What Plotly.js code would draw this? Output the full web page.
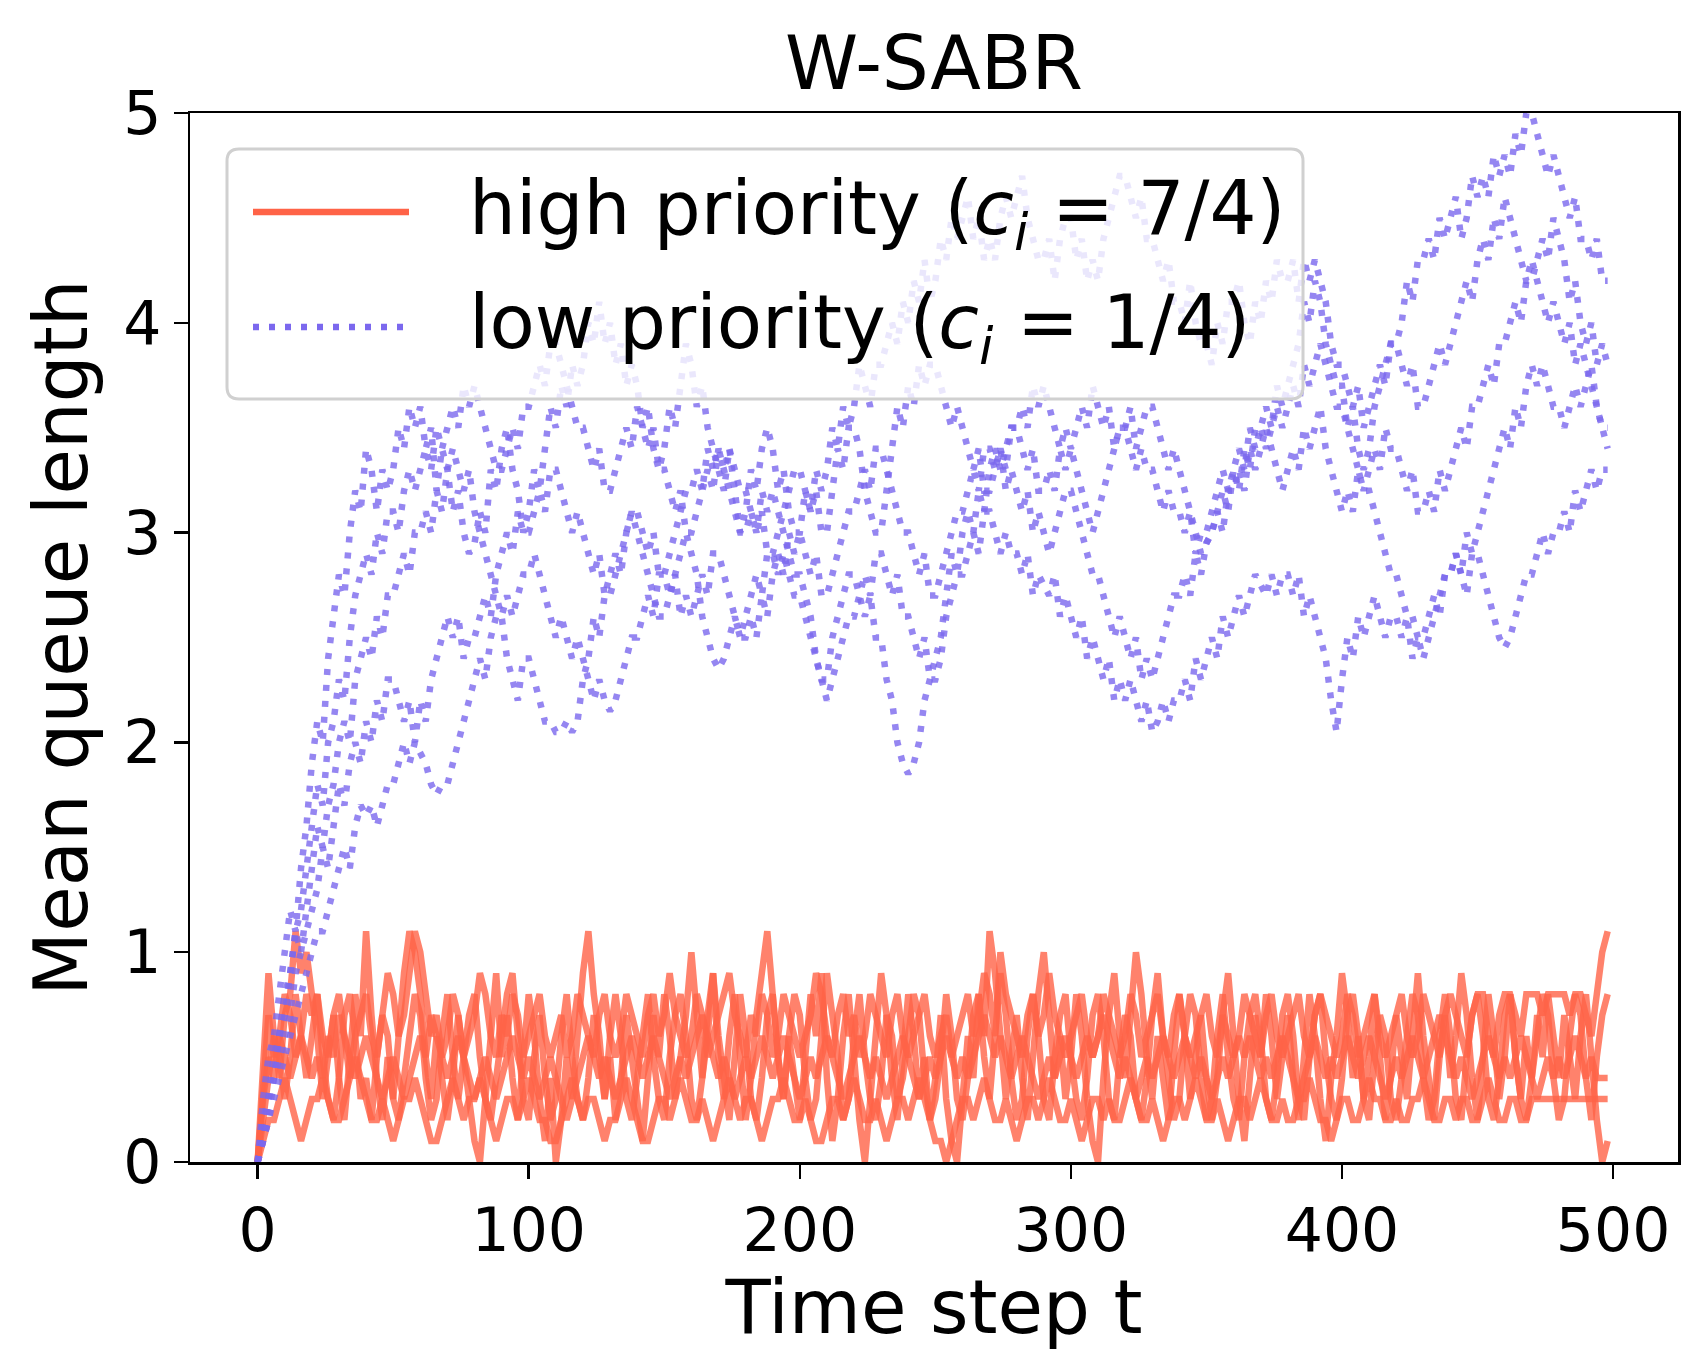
<!DOCTYPE html>
<html>
<head>
<meta charset="utf-8">
<script src="https://cdn.plot.ly/plotly-3.0.1.min.js"></script>
<style>
  body { margin: 0; background: #fff; }
  #chart { width: 1706px; height: 1372px; }
</style>
</head>
<body>
<div id="chart"></div>
<script>
// Mean queue length per run, sampled every 2 time steps (t = 0, 2, ..., 498)
var high_run1 = [
  0.0, 0.3, 0.5, 0.4, 0.6, 0.5, 0.4, 0.5, 0.6, 0.5,
  0.4, 0.5, 0.4, 0.6, 0.5, 0.7, 0.6, 0.5, 0.4, 0.5,
  0.6, 0.5, 0.4, 0.3, 0.4, 0.5, 0.4, 0.3, 0.4, 0.5,
  0.6, 0.5, 0.7, 0.6, 0.5, 0.4, 0.5, 0.6, 0.5, 0.4,
  0.3, 0.4, 0.5, 0.4, 0.3, 0.4, 0.5, 0.6, 0.5, 0.4,
  0.5, 0.4, 0.3, 0.4, 0.5, 0.4, 0.3, 0.2, 0.3, 0.4,
  0.5, 0.6, 0.5, 0.4, 0.5, 0.4, 0.3, 0.4, 0.5, 0.6,
  0.5, 0.4, 0.5, 0.6, 0.5, 0.4, 0.3, 0.4, 0.5, 0.4,
  0.5, 0.6, 0.7, 0.6, 0.5, 0.4, 0.5, 0.4, 0.3, 0.4,
  0.5, 0.4, 0.5, 0.6, 0.5, 0.4, 0.5, 0.6, 0.5, 0.4,
  0.3, 0.4, 0.5, 0.4, 0.5, 0.6, 0.5, 0.4, 0.3, 0.4,
  0.5, 0.6, 0.5, 0.4, 0.5, 0.4, 0.3, 0.4, 0.5, 0.6,
  0.5, 0.4, 0.3, 0.4, 0.5, 0.4, 0.5, 0.6, 0.5, 0.4,
  0.5, 0.4, 0.5, 0.6, 0.7, 0.6, 0.5, 0.6, 0.5, 0.4,
  0.5, 0.6, 0.5, 0.4, 0.3, 0.4, 0.5, 0.4, 0.5, 0.6,
  0.5, 0.4, 0.5, 0.6, 0.5, 0.6, 0.7, 0.6, 0.5, 0.4,
  0.5, 0.4, 0.3, 0.4, 0.5, 0.4, 0.5, 0.6, 0.5, 0.4,
  0.5, 0.6, 0.5, 0.4, 0.5, 0.4, 0.3, 0.4, 0.5, 0.4,
  0.5, 0.6, 0.5, 0.6, 0.5, 0.4, 0.5, 0.4, 0.5, 0.6,
  0.5, 0.4, 0.3, 0.4, 0.5, 0.6, 0.5, 0.4, 0.5, 0.4,
  0.5, 0.6, 0.5, 0.4, 0.5, 0.6, 0.5, 0.4, 0.3, 0.4,
  0.5, 0.4, 0.5, 0.6, 0.5, 0.4, 0.5, 0.6, 0.7, 0.6,
  0.5, 0.4, 0.5, 0.4, 0.3, 0.4, 0.5, 0.6, 0.5, 0.4,
  0.5, 0.4, 0.5, 0.6, 0.5, 0.4, 0.3, 0.4, 0.5, 0.4,
  0.5, 0.4, 0.5, 0.6, 0.5, 0.4, 0.5, 0.4, 0.4, 0.4
];
var high_run2 = [
  0.0, 0.5, 0.9, 0.6, 0.4, 0.7, 0.8, 1.1, 0.9, 1.0,
  0.8, 0.6, 0.3, 0.5, 0.7, 0.4, 0.2, 0.5, 0.8, 0.6,
  1.1, 0.7, 0.4, 0.2, 0.5, 0.3, 0.6, 0.9, 1.1, 1.0,
  0.8, 0.5, 0.3, 0.6, 0.4, 0.2, 0.4, 0.7, 0.5, 0.3,
  0.1, 0.0, 0.3, 0.6, 0.9, 0.5, 0.7, 0.4, 0.2, 0.5,
  0.8, 0.6, 0.3, 0.1, 0.4, 0.0, 0.2, 0.5, 0.3, 0.6,
  0.9, 1.1, 0.8, 0.6, 0.3, 0.5, 0.2, 0.4, 0.7, 0.5,
  0.3, 0.1, 0.4, 0.7, 0.5, 0.8, 0.6, 0.3, 0.5, 0.7,
  1.0, 0.7, 0.4, 0.6, 0.9, 0.5, 0.3, 0.6, 0.8, 0.5,
  0.2, 0.4, 0.7, 0.9, 1.1, 0.8, 0.5, 0.3, 0.6, 0.4,
  0.2, 0.5, 0.8, 0.6, 0.9, 0.4, 0.1, 0.3, 0.6, 0.8,
  0.5, 0.2, 0.0, 0.3, 0.6, 0.9, 0.7, 0.4, 0.2, 0.5,
  0.8, 0.6, 0.3, 0.5, 0.2, 0.4, 0.7, 0.3, 0.1, 0.0,
  0.3, 0.6, 0.4, 0.8, 0.6, 1.1, 0.9, 0.6, 0.3, 0.5,
  0.7, 0.4, 0.2, 0.5, 0.8, 1.0, 0.7, 0.4, 0.6, 0.3,
  0.5, 0.8, 0.6, 0.3, 0.1, 0.0, 0.4, 0.7, 0.9, 0.6,
  0.4, 0.7, 1.0, 0.8, 0.5, 0.3, 0.6, 0.4, 0.2, 0.5,
  0.8, 0.6, 0.3, 0.5, 0.7, 0.4, 0.2, 0.4, 0.7, 0.9,
  0.6, 0.3, 0.1, 0.4, 0.7, 0.5, 0.8, 0.6, 0.3, 0.5,
  0.7, 0.4, 0.2, 0.5, 0.8, 0.6, 0.3, 0.1, 0.4, 0.6,
  0.9, 0.7, 0.4, 0.6, 0.3, 0.5, 0.8, 0.5, 0.2, 0.4,
  0.7, 0.5, 0.3, 0.6, 0.9, 0.6, 0.4, 0.2, 0.5, 0.7,
  0.4, 0.6, 0.9, 0.7, 0.4, 0.2, 0.5, 0.8, 0.6, 0.3,
  0.5, 0.8, 0.5, 0.3, 0.6, 0.4, 0.7, 0.5, 0.8, 0.6,
  0.4, 0.7, 0.5, 0.3, 0.6, 0.8, 0.5, 0.2, 0.0, 0.1
];
var high_run3 = [
  0.0, 0.2, 0.4, 0.6, 0.5, 0.3, 0.5, 0.8, 0.6, 0.4,
  0.6, 0.8, 0.5, 0.3, 0.2, 0.4, 0.7, 0.8, 0.6, 0.3,
  0.4, 0.2, 0.5, 0.7, 0.6, 0.3, 0.2, 0.4, 0.6, 0.8,
  0.7, 0.4, 0.2, 0.3, 0.6, 0.8, 0.5, 0.3, 0.5, 0.7,
  0.8, 0.5, 0.3, 0.2, 0.4, 0.6, 0.8, 0.9, 0.6, 0.3,
  0.2, 0.5, 0.7, 0.4, 0.2, 0.3, 0.6, 0.8, 0.5, 0.3,
  0.2, 0.4, 0.7, 0.5, 0.3, 0.6, 0.8, 0.6, 0.3, 0.2,
  0.4, 0.6, 0.8, 0.5, 0.3, 0.2, 0.5, 0.7, 0.8, 0.6,
  0.3, 0.2, 0.4, 0.7, 0.9, 0.6, 0.4, 0.2, 0.5, 0.8,
  0.6, 0.3, 0.2, 0.4, 0.7, 0.8, 0.5, 0.3, 0.6, 0.8,
  0.7, 0.4, 0.2, 0.3, 0.6, 0.9, 0.7, 0.5, 0.2, 0.3,
  0.6, 0.8, 0.5, 0.3, 0.2, 0.4, 0.7, 0.6, 0.3, 0.4,
  0.6, 0.8, 0.7, 0.4, 0.2, 0.3, 0.5, 0.8, 0.6, 0.3,
  0.2, 0.4, 0.7, 0.8, 0.5, 0.3, 0.6, 0.9, 0.7, 0.4,
  0.2, 0.3, 0.6, 0.8, 0.6, 0.3, 0.2, 0.5, 0.7, 0.8,
  0.5, 0.3, 0.2, 0.4, 0.7, 0.8, 0.6, 0.3, 0.2, 0.5,
  0.7, 0.6, 0.3, 0.2, 0.4, 0.7, 0.9, 0.6, 0.4, 0.2,
  0.3, 0.6, 0.8, 0.7, 0.4, 0.2, 0.3, 0.6, 0.8, 0.5,
  0.3, 0.2, 0.5, 0.7, 0.8, 0.6, 0.3, 0.2, 0.4, 0.7,
  0.8, 0.6, 0.3, 0.2, 0.5, 0.7, 0.8, 0.5, 0.3, 0.2,
  0.4, 0.7, 0.8, 0.6, 0.3, 0.2, 0.5, 0.7, 0.6, 0.3,
  0.2, 0.4, 0.6, 0.8, 0.7, 0.4, 0.2, 0.3, 0.6, 0.8,
  0.6, 0.3, 0.2, 0.5, 0.7, 0.8, 0.6, 0.3, 0.2, 0.4,
  0.7, 0.8, 0.5, 0.3, 0.2, 0.4, 0.6, 0.8, 0.7, 0.4,
  0.2, 0.3, 0.6, 0.8, 0.7, 0.4, 0.2, 0.5, 0.7, 0.8
];
var high_run4 = [
  0.0, 0.1, 0.2, 0.2, 0.3, 0.4, 0.3, 0.2, 0.1, 0.2,
  0.3, 0.3, 0.4, 0.3, 0.2, 0.2, 0.3, 0.4, 0.5, 0.4,
  0.3, 0.2, 0.2, 0.3, 0.2, 0.1, 0.2, 0.3, 0.3, 0.4,
  0.3, 0.2, 0.1, 0.1, 0.2, 0.3, 0.4, 0.3, 0.2, 0.3,
  0.3, 0.4, 0.3, 0.2, 0.1, 0.2, 0.3, 0.3, 0.2, 0.3,
  0.4, 0.3, 0.2, 0.2, 0.1, 0.1, 0.2, 0.3, 0.4, 0.3,
  0.2, 0.3, 0.3, 0.2, 0.1, 0.2, 0.2, 0.3, 0.4, 0.3,
  0.2, 0.1, 0.1, 0.2, 0.3, 0.3, 0.2, 0.3, 0.4, 0.3,
  0.2, 0.2, 0.3, 0.2, 0.1, 0.2, 0.3, 0.4, 0.3, 0.2,
  0.3, 0.3, 0.2, 0.1, 0.2, 0.3, 0.3, 0.4, 0.3, 0.2,
  0.2, 0.3, 0.2, 0.1, 0.1, 0.2, 0.3, 0.3, 0.2, 0.3,
  0.4, 0.3, 0.2, 0.2, 0.3, 0.2, 0.1, 0.2, 0.3, 0.3,
  0.2, 0.3, 0.4, 0.3, 0.2, 0.1, 0.1, 0.0, 0.1, 0.2,
  0.3, 0.3, 0.2, 0.3, 0.4, 0.3, 0.2, 0.2, 0.3, 0.2,
  0.1, 0.2, 0.3, 0.3, 0.2, 0.3, 0.4, 0.3, 0.2, 0.2,
  0.3, 0.2, 0.1, 0.2, 0.3, 0.3, 0.2, 0.3, 0.2, 0.2,
  0.3, 0.4, 0.3, 0.2, 0.2, 0.3, 0.2, 0.1, 0.2, 0.3,
  0.3, 0.2, 0.3, 0.4, 0.3, 0.2, 0.2, 0.3, 0.2, 0.1,
  0.2, 0.3, 0.3, 0.2, 0.3, 0.4, 0.3, 0.2, 0.2, 0.3,
  0.2, 0.2, 0.3, 0.3, 0.4, 0.3, 0.2, 0.2, 0.1, 0.2,
  0.3, 0.3, 0.2, 0.2, 0.3, 0.4, 0.3, 0.3, 0.2, 0.2,
  0.3, 0.2, 0.2, 0.3, 0.3, 0.4, 0.3, 0.2, 0.2, 0.3,
  0.3, 0.2, 0.3, 0.3, 0.2, 0.2, 0.3, 0.4, 0.3, 0.2,
  0.2, 0.3, 0.3, 0.2, 0.2, 0.3, 0.3, 0.3, 0.3, 0.3,
  0.3, 0.3, 0.3, 0.3, 0.3, 0.3, 0.3, 0.3, 0.3, 0.3
];
var high_run5 = [
  0.0, 0.4, 0.7, 0.5, 0.6, 0.8, 0.7, 0.5, 0.6, 0.8,
  0.7, 0.8, 0.6, 0.5, 0.7, 0.8, 0.6, 0.4, 0.6, 0.7,
  0.8, 0.6, 0.5, 0.7, 0.9, 0.8, 0.6, 0.7, 0.9, 1.1,
  1.0, 0.8, 0.6, 0.7, 0.5, 0.6, 0.8, 0.7, 0.5, 0.6,
  0.7, 0.9, 0.8, 0.6, 0.5, 0.7, 0.6, 0.8, 0.7, 0.5,
  0.6, 0.7, 0.8, 0.6, 0.5, 0.6, 0.7, 0.5, 0.6, 0.8,
  0.7, 0.6, 0.5, 0.7, 0.8, 0.6, 0.5, 0.6, 0.8, 0.7,
  0.6, 0.5, 0.7, 0.8, 0.6, 0.7, 0.9, 0.7, 0.6, 0.5,
  0.6, 0.8, 0.7, 0.5, 0.6, 0.7, 0.8, 0.9, 0.7, 0.6,
  0.5, 0.7, 0.6, 0.8, 0.7, 0.5, 0.6, 0.8, 0.7, 0.6,
  0.5, 0.6, 0.7, 0.9, 0.8, 0.6, 0.5, 0.7, 0.8, 0.6,
  0.7, 0.5, 0.6, 0.8, 0.7, 0.6, 0.5, 0.7, 0.8, 0.6,
  0.5, 0.6, 0.7, 0.8, 0.6, 0.5, 0.6, 0.7, 0.5, 0.6,
  0.7, 0.8, 0.6, 0.7, 0.9, 0.8, 0.6, 1.0, 0.8, 0.7,
  0.6, 0.5, 0.7, 0.8, 0.6, 0.7, 0.9, 0.7, 0.6, 0.5,
  0.6, 0.7, 0.8, 0.6, 0.5, 0.6, 0.8, 0.7, 0.6, 0.5,
  0.6, 0.8, 0.7, 0.5, 0.6, 0.7, 0.8, 0.6, 0.5, 0.7,
  0.8, 0.6, 0.5, 0.6, 0.7, 0.8, 0.6, 0.5, 0.7, 0.6,
  0.5, 0.6, 0.8, 0.7, 0.6, 0.5, 0.7, 0.8, 0.6, 0.5,
  0.6, 0.7, 0.8, 0.6, 0.5, 0.7, 0.8, 0.7, 0.6, 0.5,
  0.6, 0.8, 0.7, 0.5, 0.6, 0.7, 0.8, 0.6, 0.5, 0.6,
  0.7, 0.8, 0.6, 0.5, 0.6, 0.8, 0.7, 0.6, 0.5, 0.7,
  0.8, 0.7, 0.6, 0.5, 0.7, 0.8, 0.8, 0.6, 0.5, 0.7,
  0.8, 0.8, 0.7, 0.6, 0.8, 0.8, 0.8, 0.7, 0.8, 0.8,
  0.8, 0.8, 0.7, 0.8, 0.8, 0.7, 0.6, 0.8, 1.0, 1.1
];

var low_run1 = [
  0.0, 0.3, 0.5, 0.6, 0.8, 1.0, 1.2, 1.1, 1.4, 1.6,
  1.9, 2.1, 2.0, 2.4, 2.6, 2.8, 2.7, 3.0, 3.2, 3.1,
  3.4, 3.3, 3.1, 3.3, 3.2, 3.3, 3.5, 3.4, 3.6, 3.5,
  3.6, 3.4, 3.5, 3.2, 3.4, 3.3, 3.1, 3.2, 3.0, 2.9,
  2.95, 3.1, 3.0, 3.3, 3.2, 3.4, 3.5, 3.3, 3.2, 3.0,
  3.1, 3.3, 3.2, 3.4, 3.6, 3.5, 3.7, 3.6, 3.8, 3.7,
  3.8, 4.0, 3.9, 4.1, 3.9, 4.0, 3.8, 3.9, 3.7, 3.8,
  3.7, 3.5, 3.6, 3.4, 3.3, 3.4, 3.6, 3.5, 3.7, 3.9,
  3.8, 3.6, 3.7, 3.5, 3.4, 3.3, 3.2, 3.4, 3.2, 3.0,
  3.1, 3.3, 3.2, 3.4, 3.5, 3.4, 3.2, 3.3, 3.1, 3.0,
  3.0, 3.2, 3.1, 3.3, 3.2, 3.3, 3.5, 3.4, 3.6, 3.5,
  3.6, 3.8, 3.7, 3.6, 3.8, 3.8, 3.9, 4.0, 3.9, 4.1,
  4.0, 4.2, 4.1, 4.3, 4.1, 4.2, 4.4, 4.3, 4.5, 4.4,
  4.5, 4.6, 4.4, 4.5, 4.3, 4.4, 4.3, 4.5, 4.6, 4.5,
  4.6, 4.7, 4.5, 4.4, 4.3, 4.3, 4.4, 4.2, 4.4, 4.5,
  4.5, 4.3, 4.4, 4.2, 4.3, 4.2, 4.4, 4.5, 4.6, 4.7,
  4.7, 4.6, 4.5, 4.6, 4.4, 4.4, 4.3, 4.2, 4.3, 4.1,
  4.1, 4.0, 4.2, 4.0, 3.9, 3.9, 3.8, 4.0, 3.9, 4.1,
  4.1, 4.2, 4.0, 3.9, 4.1, 4.0, 4.2, 4.1, 4.3, 4.2,
  4.2, 4.3, 4.1, 4.3, 4.2, 4.3, 4.2, 4.1, 3.9, 3.8,
  3.8, 3.7, 3.6, 3.7, 3.5, 3.6, 3.7, 3.8, 3.7, 3.9,
  3.9, 4.0, 4.2, 4.1, 4.3, 4.3, 4.4, 4.3, 4.5, 4.4,
  4.5, 4.6, 4.4, 4.5, 4.7, 4.6, 4.7, 4.6, 4.8, 4.7,
  4.8, 4.7, 4.9, 4.8, 5.0, 5.0, 4.9, 4.8, 4.7, 4.8,
  4.7, 4.6, 4.5, 4.6, 4.4, 4.4, 4.3, 4.4, 4.2, 4.2
];
var low_run2 = [
  0.0, 0.2, 0.3, 0.5, 0.6, 0.8, 0.9, 1.1, 1.0, 1.2,
  1.4, 1.6, 1.5, 1.7, 1.8, 2.0, 2.1, 2.0, 2.3, 2.4,
  2.5, 2.4, 2.6, 2.5, 2.7, 2.7, 2.8, 2.9, 2.8, 3.0,
  3.0, 3.1, 3.0, 3.2, 3.1, 3.3, 3.4, 3.3, 3.2, 3.3,
  3.1, 3.0, 2.9, 2.8, 2.7, 2.6, 2.4, 2.3, 2.2, 2.4,
  2.4, 2.3, 2.2, 2.1, 2.1, 2.05, 2.05, 2.1, 2.05, 2.1,
  2.3, 2.4, 2.6, 2.5, 2.7, 2.8, 2.9, 2.8, 3.0, 3.1,
  3.1, 3.0, 2.9, 3.0, 2.8, 2.8, 2.9, 3.0, 3.1, 3.2,
  3.2, 3.3, 3.2, 3.4, 3.3, 3.4, 3.3, 3.2, 3.1, 3.0,
  3.0, 3.1, 3.0, 3.2, 3.1, 3.2, 3.1, 3.0, 2.9, 2.8,
  2.8, 2.7, 2.6, 2.4, 2.3, 2.3, 2.5, 2.6, 2.7, 2.8,
  2.8, 2.7, 2.6, 2.7, 2.5, 2.5, 2.3, 2.2, 2.0, 1.9,
  1.85, 1.9, 2.0, 2.2, 2.3, 2.4, 2.5, 2.7, 2.9, 2.8,
  3.0, 3.1, 3.0, 3.2, 3.1, 3.3, 3.4, 3.3, 3.4, 3.5,
  3.5, 3.4, 3.3, 3.4, 3.2, 3.2, 3.3, 3.2, 3.4, 3.3,
  3.4, 3.3, 3.2, 3.1, 3.0, 3.1, 3.2, 3.3, 3.4, 3.5,
  3.5, 3.6, 3.4, 3.5, 3.6, 3.6, 3.5, 3.4, 3.3, 3.4,
  3.3, 3.2, 3.1, 3.0, 2.9, 2.95, 3.0, 3.1, 3.0, 3.2,
  3.2, 3.3, 3.2, 3.4, 3.3, 3.4, 3.5, 3.4, 3.3, 3.2,
  3.3, 3.4, 3.3, 3.5, 3.4, 3.5, 3.6, 3.4, 3.3, 3.2,
  3.1, 3.2, 3.1, 3.3, 3.2, 3.3, 3.4, 3.3, 3.5, 3.4,
  3.4, 3.3, 3.2, 3.3, 3.1, 3.1, 3.2, 3.1, 3.3, 3.2,
  3.3, 3.4, 3.5, 3.4, 3.6, 3.6, 3.7, 3.8, 3.7, 3.9,
  3.9, 4.0, 4.1, 4.0, 4.2, 4.3, 4.2, 4.1, 4.0, 4.1,
  4.0, 3.9, 4.0, 3.8, 3.9, 3.8, 3.7, 3.6, 3.5, 3.5
];
var low_run3 = [
  0.0, 0.1, 0.2, 0.3, 0.4, 0.5, 0.6, 0.7, 0.8, 0.9,
  1.0, 1.1, 1.1, 1.2, 1.3, 1.4, 1.5, 1.4, 1.6, 1.7,
  1.65, 1.7, 1.6, 1.7, 1.8, 1.8, 1.9, 2.0, 1.9, 2.0,
  1.95, 1.9, 1.8, 1.75, 1.8, 1.8, 1.9, 2.0, 2.1, 2.2,
  2.3, 2.4, 2.3, 2.5, 2.6, 2.6, 2.7, 2.6, 2.7, 2.8,
  2.8, 2.9, 2.8, 2.7, 2.6, 2.5, 2.6, 2.5, 2.4, 2.5,
  2.4, 2.3, 2.2, 2.3, 2.2, 2.15, 2.2, 2.3, 2.4, 2.5,
  2.5, 2.6, 2.7, 2.6, 2.8, 2.8, 2.7, 2.8, 2.6, 2.7,
  2.6, 2.7, 2.8, 2.7, 2.9, 2.9, 2.8, 2.7, 2.6, 2.5,
  2.5, 2.6, 2.5, 2.7, 2.6, 2.8, 2.9, 2.8, 3.0, 2.9,
  3.0, 2.9, 2.8, 2.9, 2.7, 2.7, 2.8, 2.9, 3.0, 3.1,
  3.1, 3.2, 3.3, 3.2, 3.4, 3.4, 3.3, 3.2, 3.1, 3.0,
  3.0, 2.9, 2.8, 2.9, 2.7, 2.7, 2.8, 2.9, 3.0, 3.1,
  3.1, 3.2, 3.3, 3.2, 3.4, 3.4, 3.3, 3.4, 3.2, 3.3,
  3.2, 3.1, 3.2, 3.0, 3.1, 3.0, 2.9, 3.0, 3.1, 3.2,
  3.2, 3.1, 3.0, 2.9, 2.8, 2.8, 2.7, 2.6, 2.5, 2.6,
  2.5, 2.4, 2.5, 2.3, 2.4, 2.3, 2.4, 2.5, 2.6, 2.7,
  2.7, 2.8, 2.7, 2.9, 2.8, 2.95, 3.0, 3.1, 3.2, 3.1,
  3.3, 3.2, 3.4, 3.3, 3.5, 3.5, 3.4, 3.5, 3.6, 3.5,
  3.6, 3.7, 3.6, 3.8, 3.7, 3.8, 3.9, 3.8, 3.7, 3.6,
  3.6, 3.5, 3.4, 3.3, 3.2, 3.2, 3.1, 3.0, 2.9, 2.8,
  2.8, 2.7, 2.6, 2.6, 2.5, 2.5, 2.6, 2.7, 2.6, 2.8,
  2.8, 2.9, 2.8, 3.0, 2.9, 3.0, 3.1, 3.2, 3.3, 3.4,
  3.5, 3.4, 3.6, 3.5, 3.7, 3.8, 3.7, 3.8, 3.7, 3.6,
  3.6, 3.5, 3.6, 3.7, 3.6, 3.7, 3.8, 3.6, 3.5, 3.4
];
var low_run4 = [
  0.0, 0.1, 0.3, 0.4, 0.6, 0.7, 0.9, 1.1, 1.2, 1.4,
  1.6, 1.8, 1.7, 2.0, 2.1, 2.3, 2.2, 2.5, 2.7, 2.8,
  2.9, 2.8, 3.0, 2.9, 3.1, 3.1, 3.0, 3.2, 3.3, 3.2,
  3.3, 3.4, 3.3, 3.5, 3.4, 3.5, 3.6, 3.5, 3.7, 3.6,
  3.7, 3.6, 3.5, 3.4, 3.3, 3.3, 3.4, 3.5, 3.4, 3.6,
  3.6, 3.7, 3.8, 3.7, 3.9, 3.9, 3.8, 3.7, 3.6, 3.5,
  3.5, 3.4, 3.3, 3.4, 3.2, 3.2, 3.3, 3.4, 3.5, 3.4,
  3.6, 3.5, 3.4, 3.5, 3.3, 3.3, 3.2, 3.1, 3.2, 3.0,
  3.0, 3.1, 3.2, 3.3, 3.2, 3.4, 3.3, 3.4, 3.3, 3.2,
  3.2, 3.1, 3.0, 3.1, 2.9, 2.9, 3.0, 3.1, 3.2, 3.3,
  3.3, 3.2, 3.1, 3.2, 3.0, 3.0, 3.2, 3.4, 3.3, 3.5,
  3.5, 3.4, 3.2, 3.1, 3.0, 3.0, 3.2, 3.4, 3.6, 3.5,
  3.7, 3.6, 3.8, 3.7, 3.8, 3.8, 3.7, 3.6, 3.5, 3.6,
  3.5, 3.4, 3.3, 3.4, 3.2, 3.2, 3.3, 3.4, 3.3, 3.5,
  3.5, 3.6, 3.5, 3.7, 3.6, 3.7, 3.6, 3.5, 3.4, 3.5,
  3.4, 3.5, 3.6, 3.5, 3.7, 3.6, 3.5, 3.6, 3.4, 3.5,
  3.5, 3.4, 3.3, 3.4, 3.3, 3.3, 3.2, 3.1, 3.2, 3.1,
  3.1, 3.0, 3.1, 2.9, 3.0, 3.0, 3.1, 3.2, 3.3, 3.2,
  3.3, 3.4, 3.3, 3.5, 3.4, 3.5, 3.6, 3.5, 3.7, 3.6,
  3.7, 3.8, 3.9, 4.1, 4.0, 4.2, 4.1, 3.9, 3.8, 3.7,
  3.7, 3.5, 3.6, 3.4, 3.3, 3.4, 3.6, 3.7, 3.8, 3.9,
  3.9, 3.8, 3.7, 3.8, 3.6, 3.6, 3.7, 3.8, 3.9, 3.8,
  3.9, 4.0, 4.1, 4.2, 4.1, 4.3, 4.4, 4.3, 4.5, 4.4,
  4.6, 4.5, 4.4, 4.3, 4.2, 4.2, 4.3, 4.4, 4.3, 4.5,
  4.4, 4.3, 4.1, 4.2, 4.0, 3.9, 4.0, 3.8, 3.9, 3.8
];
var low_run5 = [
  0.0, 0.1, 0.2, 0.4, 0.5, 0.6, 0.7, 0.9, 1.0, 1.1,
  1.2, 1.3, 1.5, 1.4, 1.6, 1.8, 1.7, 1.9, 2.0, 1.9,
  2.1, 2.0, 2.2, 2.1, 2.3, 2.3, 2.2, 2.1, 2.2, 2.0,
  2.2, 2.1, 2.3, 2.4, 2.5, 2.6, 2.5, 2.6, 2.4, 2.5,
  2.5, 2.6, 2.7, 2.6, 2.8, 2.9, 3.0, 2.9, 3.1, 3.0,
  3.0, 3.1, 3.2, 3.1, 3.3, 3.3, 3.2, 3.1, 3.0, 3.1,
  3.0, 2.9, 2.8, 2.9, 2.7, 2.7, 2.8, 2.9, 3.0, 3.1,
  3.0, 2.9, 2.8, 2.7, 2.6, 2.6, 2.7, 2.8, 2.9, 3.0,
  2.9, 2.8, 2.6, 2.5, 2.4, 2.35, 2.4, 2.5, 2.6, 2.5,
  2.6, 2.7, 2.8, 2.7, 2.9, 2.9, 2.8, 2.9, 2.8, 2.7,
  2.7, 2.6, 2.5, 2.4, 2.3, 2.2, 2.3, 2.4, 2.5, 2.6,
  2.6, 2.7, 2.8, 2.7, 2.9, 2.9, 2.8, 2.7, 2.8, 2.6,
  2.6, 2.5, 2.4, 2.5, 2.3, 2.3, 2.4, 2.6, 2.7, 2.8,
  2.8, 2.9, 3.0, 2.9, 3.1, 3.1, 3.0, 2.9, 3.0, 2.9,
  2.9, 2.8, 2.9, 2.7, 2.8, 2.75, 2.7, 2.8, 2.6, 2.7,
  2.6, 2.5, 2.6, 2.4, 2.5, 2.4, 2.3, 2.4, 2.2, 2.3,
  2.2, 2.3, 2.2, 2.1, 2.2, 2.05, 2.1, 2.2, 2.1, 2.2,
  2.2, 2.3, 2.2, 2.4, 2.3, 2.4, 2.5, 2.4, 2.6, 2.5,
  2.6, 2.7, 2.6, 2.7, 2.8, 2.75, 2.7, 2.8, 2.7, 2.8,
  2.8, 2.7, 2.8, 2.6, 2.7, 2.6, 2.5, 2.4, 2.2, 2.05,
  2.3, 2.5, 2.4, 2.6, 2.5, 2.6, 2.7, 2.6, 2.5, 2.6,
  2.6, 2.5, 2.6, 2.4, 2.5, 2.4, 2.5, 2.6, 2.7, 2.8,
  2.8, 2.9, 2.8, 2.7, 2.9, 2.9, 2.8, 2.7, 2.6, 2.5,
  2.45, 2.5, 2.6, 2.7, 2.8, 2.8, 2.9, 3.0, 2.9, 3.0,
  3.0, 3.1, 3.0, 3.2, 3.1, 3.2, 3.3, 3.2, 3.3, 3.3
];

var high_runs = [high_run1, high_run2, high_run3, high_run4, high_run5];
var low_runs = [low_run1, low_run2, low_run3, low_run4, low_run5];

var high_label = 'high priority (<i>c<sub>i</sub></i> = 7/4)';
var low_label = 'low priority (<i>c<sub>i</sub></i> = 1/4)';
var x_tick_vals = [0, 100, 200, 300, 400, 500];
var y_tick_vals = [0, 1, 2, 3, 4, 5];

var FONT = 'DejaVu Sans, Liberation Sans, sans-serif';
var HIGH_COLOR = '#FF6347';
var LOW_COLOR = '#7B68EE';
var LOW_DASH = '6px,10px';

// plot area in pixels (matches the margins below)
var PLOT = { left: 190, right: 1678, top: 113, bottom: 1162 };

function px2x(px) { return (px - PLOT.left) / (PLOT.right - PLOT.left); }
function px2y(py) { return (PLOT.bottom - py) / (PLOT.bottom - PLOT.top); }

function timeSteps(values) {
    return values.map(function(_, i) { return i * 2; });
}

function createRunTrace(values, name, color, dash) {
    return {
        x: timeSteps(values),
        y: values,
        mode: 'lines',
        name: name,
        showlegend: false,
        opacity: 0.8,
        line: { color: color, width: 6.5, dash: dash },
        hoverinfo: 'skip'
    };
}

var data = [];
high_runs.forEach(function(run) {
    data.push(createRunTrace(run, 'high priority', HIGH_COLOR, 'solid'));
});
low_runs.forEach(function(run) {
    data.push(createRunTrace(run, 'low priority', LOW_COLOR, LOW_DASH));
});

function axisStyle(titleText, tickVals, standoff) {
    return {
        title: { text: titleText, font: { family: FONT, size: 74, color: '#000' }, standoff: standoff },
        tickvals: tickVals,
        ticks: 'outside',
        ticklen: 14,
        tickwidth: 2.5,
        tickcolor: '#000',
        tickfont: { family: FONT, size: 60, color: '#000' },
        showline: true,
        linecolor: '#000',
        linewidth: 2.5,
        mirror: true,
        showgrid: false,
        zeroline: false
    };
}

// legend box with rounded corners, drawn above the lines
function roundedBox(x0, y0, x1, y1, r) {
    function p(x, y) { return px2x(x) + ',' + px2y(y); }
    return 'M' + p(x0 + r, y0) +
        ' L' + p(x1 - r, y0) + ' Q' + p(x1, y0) + ' ' + p(x1, y0 + r) +
        ' L' + p(x1, y1 - r) + ' Q' + p(x1, y1) + ' ' + p(x1 - r, y1) +
        ' L' + p(x0 + r, y1) + ' Q' + p(x0, y1) + ' ' + p(x0, y1 - r) +
        ' L' + p(x0, y0 + r) + ' Q' + p(x0, y0) + ' ' + p(x0 + r, y0) + ' Z';
}

var legendRows = [
    { label: high_label, color: HIGH_COLOR, dash: 'solid', y: 212 },
    { label: low_label, color: LOW_COLOR, dash: LOW_DASH, y: 327 }
];

var shapes = [{
    type: 'path',
    xref: 'paper', yref: 'paper',
    path: roundedBox(227, 149, 1303, 399, 12),
    fillcolor: 'rgba(255,255,255,0.8)',
    line: { color: '#d0d0d0', width: 3 },
    layer: 'above'
}];
var annotations = [];
legendRows.forEach(function(row) {
    shapes.push({
        type: 'line',
        xref: 'paper', yref: 'paper',
        x0: px2x(253), x1: px2x(409),
        y0: px2y(row.y), y1: px2y(row.y),
        line: { color: row.color, width: 6.5, dash: row.dash },
        layer: 'above'
    });
    annotations.push({
        text: row.label,
        xref: 'paper', yref: 'paper',
        x: px2x(467), y: px2y(row.y + 1),
        xanchor: 'left', yanchor: 'middle',
        showarrow: false,
        font: { family: FONT, size: 74, color: '#000' }
    });
});

var layout = {
    width: 1706,
    height: 1372,
    margin: { l: PLOT.left, r: 1706 - PLOT.right, t: PLOT.top, b: 1372 - PLOT.bottom },
    paper_bgcolor: '#fff',
    plot_bgcolor: '#fff',
    showlegend: false,
    title: {
        text: 'W-SABR',
        font: { family: FONT, size: 74, color: '#000' },
        x: 0.5,
        xref: 'paper',
        y: 0.954,
        yref: 'container',
        yanchor: 'middle'
    },
    xaxis: Object.assign(axisStyle('Time step t', x_tick_vals, 13), { range: [-24.95, 523.95] }),
    yaxis: Object.assign(axisStyle('Mean queue length', y_tick_vals, 12), { range: [0, 5] }),
    shapes: shapes,
    annotations: annotations
};

Plotly.newPlot('chart', data, layout, { staticPlot: true });
</script>
</body>
</html>
